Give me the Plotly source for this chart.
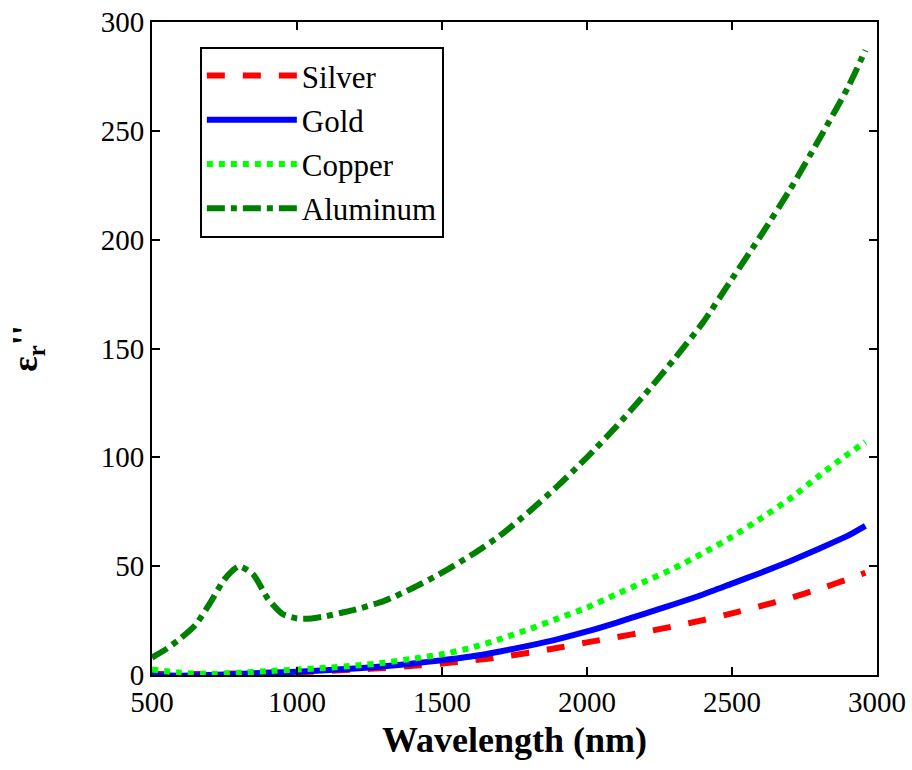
import plotly.graph_objects as go

wavelength = [500, 600, 700, 800, 900, 1000, 1100, 1200, 1300, 1400, 1500, 1600, 1700, 1800,
              1900, 2000, 2100, 2200, 2300, 2400, 2500, 2600, 2700, 2800, 2900, 2960]
silver = [0.5, 0.5, 0.5, 0.7, 1.0, 1.3, 1.8, 2.5, 3.2, 4.2, 5.3, 6.6, 8.2, 10.2,
          12.5, 15.0, 17.3, 19.8, 22.4, 25.2, 28.3, 31.7, 35.4, 39.5, 44.0, 47.0]
gold = [0.0, -0.3, 0.0, 0.5, 1.0, 1.5, 2.2, 3.0, 4.0, 5.3, 6.8, 8.5, 10.8, 13.5,
        16.5, 20.0, 24.0, 28.2, 32.5, 37.0, 42.0, 47.0, 52.3, 58.0, 64.0, 68.5]
copper = [2.5, 1.0, 0.5, 1.0, 1.8, 2.5, 3.3, 4.3, 5.6, 7.5, 9.5, 12.5, 16.5, 21.0,
          26.0, 31.0, 37.0, 43.0, 49.0, 56.0, 63.5, 72.0, 81.0, 91.5, 101.5, 107.0]

al_wavelength = [500, 550, 600, 650, 700, 750, 800, 850, 900, 950, 1000, 1050, 1100, 1150,
                 1200, 1300, 1400, 1500, 1600, 1700, 1800, 1900, 2000, 2100, 2200, 2300,
                 2400, 2500, 2600, 2700, 2800, 2900, 2960]
aluminum = [8, 12, 17, 23, 33, 44, 50, 46, 35, 28, 26, 26, 27, 28.5,
            30, 34, 40, 47, 55, 64, 75, 87, 100, 114, 129, 145,
            162, 182, 202, 223, 246, 270, 287]

x_ticks = [500, 1000, 1500, 2000, 2500, 3000]
y_ticks = [0, 50, 100, 150, 200, 250, 300]

font_family = "Times New Roman, Liberation Serif, serif"

fig = go.Figure()
fig.add_trace(go.Scatter(x=wavelength, y=silver, name="Silver", mode="lines",
                         line=dict(color="#ff0000", width=6, dash="dash", shape="spline", smoothing=0.6),
                         legendgroup="a"))
fig.add_trace(go.Scatter(x=wavelength, y=gold, name="Gold", mode="lines",
                         line=dict(color="#0000ff", width=6, dash="solid", shape="spline", smoothing=0.6),
                         legendgroup="b"))
fig.add_trace(go.Scatter(x=wavelength, y=copper, name="Copper", mode="lines",
                         line=dict(color="#00ff00", width=6, dash="dot", shape="spline", smoothing=0.6),
                         legendgroup="c"))
fig.add_trace(go.Scatter(x=al_wavelength, y=aluminum, name="Aluminum", mode="lines",
                         line=dict(color="#008000", width=6, dash="dashdot", shape="spline", smoothing=0.6),
                         legendgroup="d"))

axis_common = dict(showline=True, linecolor="black", linewidth=2, mirror="ticks",
                   ticks="inside", ticklen=8, tickwidth=2, tickcolor="black",
                   showgrid=False, zeroline=False, automargin=False,
                   tickfont=dict(family=font_family, size=29, color="black"))

fig.update_xaxes(range=[500, 3000], tickvals=x_ticks,
                 title=dict(text="<b>Wavelength (nm)</b>", font=dict(family=font_family, size=36, color="black"),
                            standoff=10),
                 **axis_common)
fig.update_yaxes(range=[0, 300], tickvals=y_ticks,
                 title=dict(text="<b>ε<sub>r</sub>''</b>", font=dict(family=font_family, size=36, color="black"),
                            standoff=52),
                 **axis_common)

fig.update_layout(
    width=912, height=770,
    margin=dict(l=152, r=35, t=22, b=95),
    paper_bgcolor="white", plot_bgcolor="white",
    legend=dict(x=0.066, y=0.962, xanchor="left", yanchor="top",
                bgcolor="white", bordercolor="black", borderwidth=2,
                font=dict(family=font_family, size=31, color="black"),
                traceorder="grouped", tracegroupgap=1, itemwidth=90),
    showlegend=True,
)

fig.write_html("out.html")
